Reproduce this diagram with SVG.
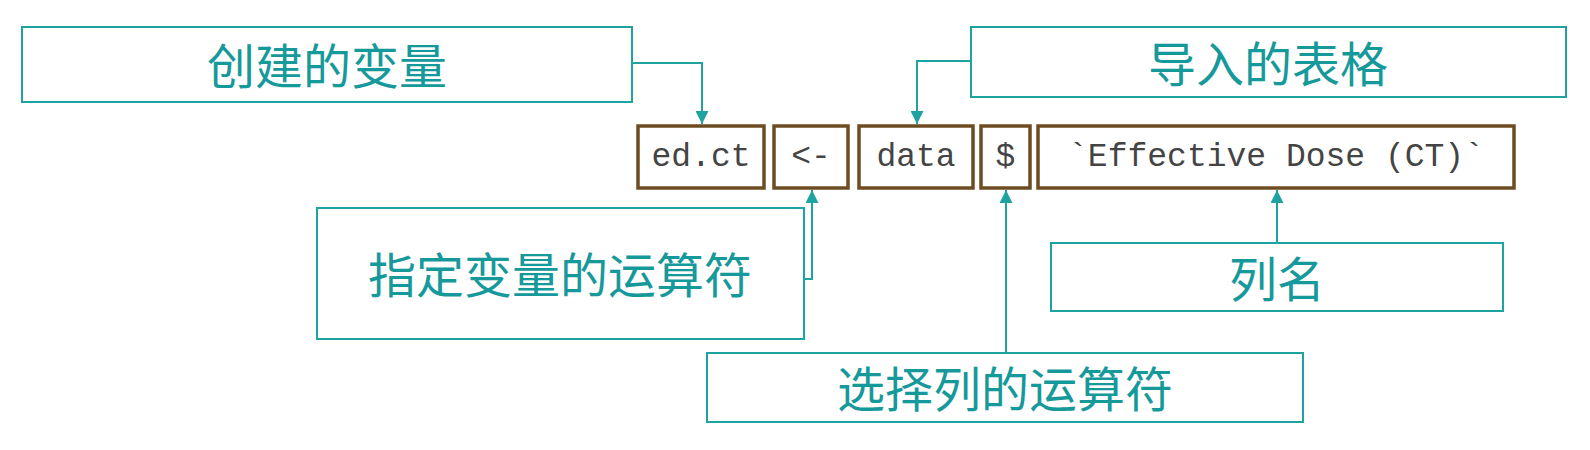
<svg xmlns="http://www.w3.org/2000/svg" width="1590" height="450" viewBox="0 0 1590 450">
<style>
.lbl{fill:#fff;stroke:#1fa3a0;stroke-width:2}
.lt{font-family:"Noto Sans CJK SC","Noto Sans",sans-serif;font-size:48px;fill:#16999a;text-anchor:middle;dominant-baseline:central}
.code{fill:#fff;stroke:#6e4c22;stroke-width:3.5}
.ct{font-family:"Liberation Mono","Courier New",monospace;font-size:33px;fill:#444;text-anchor:middle}
.con{fill:none;stroke:#1fa3a0;stroke-width:2}
</style>
<defs>
<marker id="ah" viewBox="0 0 10 10" refX="10" refY="5" markerWidth="7" markerHeight="6.5" orient="auto" markerUnits="strokeWidth">
<path d="M0,0 L10,5 L0,10 Z" fill="#1fa3a0"/>
</marker>
</defs>
<rect width="1590" height="450" fill="#fff"/>
<g id="n-created-var"><rect class="lbl" x="22" y="27" width="610" height="75"/><text class="lt" x="327" y="63">创建的变量</text></g>
<g id="n-imported-table"><rect class="lbl" x="971" y="27" width="595" height="70"/><text class="lt" x="1268" y="61">导入的表格</text></g>
<g id="n-assign-op"><rect class="lbl" x="317" y="208" width="487" height="131"/><text class="lt" x="560" y="272">指定变量的运算符</text></g>
<g id="n-select-op"><rect class="lbl" x="707" y="353" width="596" height="69"/><text class="lt" x="1005" y="386">选择列的运算符</text></g>
<g id="n-colname"><rect class="lbl" x="1051" y="243" width="452" height="68"/><text class="lt" x="1277" y="276">列名</text></g>
<g id="c-edct"><rect class="code" x="638" y="126" width="126" height="62"/><text class="ct" x="701" y="166">ed.ct</text></g>
<g id="c-assign"><rect class="code" x="774" y="126" width="74" height="62"/><text class="ct" x="811" y="166">&lt;-</text></g>
<g id="c-data"><rect class="code" x="859" y="126" width="114" height="62"/><text class="ct" x="916" y="166">data</text></g>
<g id="c-dollar"><rect class="code" x="981" y="126" width="49" height="62"/><text class="ct" x="1005.5" y="166">$</text></g>
<g id="c-col"><rect class="code" x="1038" y="126" width="476" height="62"/><text class="ct" x="1276" y="166">`Effective Dose (CT)`</text></g>
<g id="connectors">
<path class="con" d="M632,63 H702 V124" marker-end="url(#ah)"/>
<path class="con" d="M971,61 H917 V124" marker-end="url(#ah)"/>
<path class="con" d="M804,279 H812 V190" marker-end="url(#ah)"/>
<path class="con" d="M1006,353 V190" marker-end="url(#ah)"/>
<path class="con" d="M1277,243 V190" marker-end="url(#ah)"/>
</g>
</svg>
